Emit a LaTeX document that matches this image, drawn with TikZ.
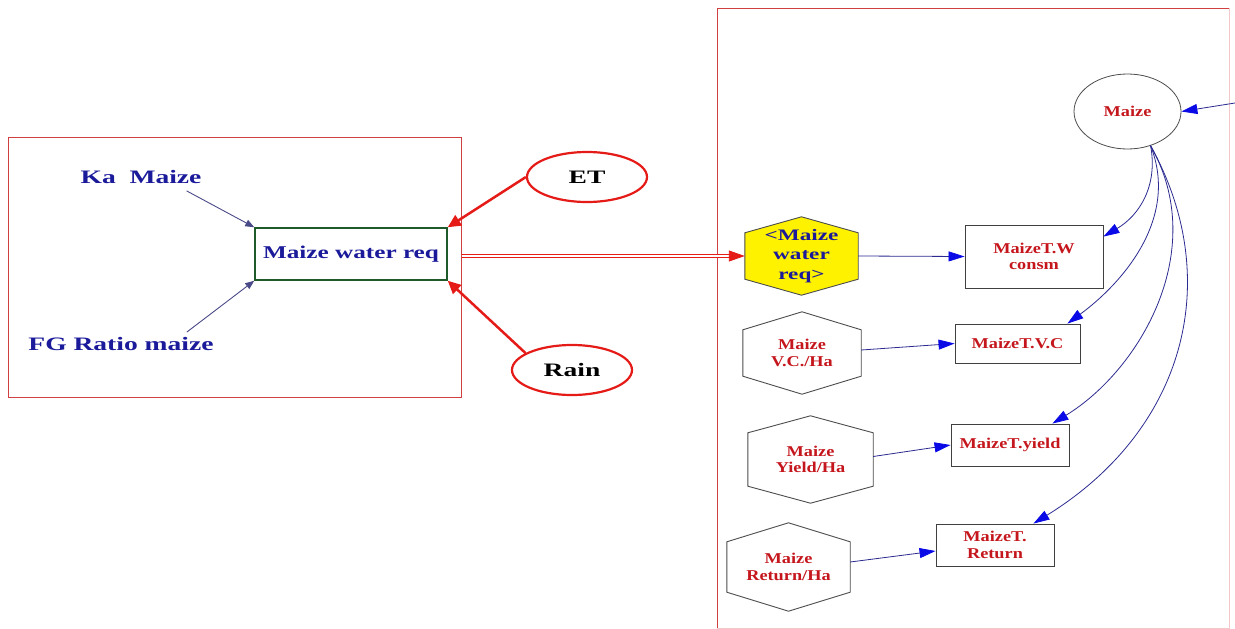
\documentclass[tikz,border=0pt]{standalone}
\usepackage{fontspec}
\setmainfont{Liberation Serif}
\newfontfamily\lfont{Liberation Serif}[FakeStretch=1.45]
\newfontfamily\mfont{Liberation Serif}[FakeStretch=1.4]
\newfontfamily\rfont{Liberation Serif}[FakeStretch=1.22]
\usetikzlibrary{arrows.meta,shapes.geometric,calc,backgrounds}
\definecolor{navy}{HTML}{1A1A9A}
\definecolor{frameRed}{HTML}{D04040}
\definecolor{faintRed}{HTML}{F2C8C8}
\definecolor{arrRed}{HTML}{E41B17}
\definecolor{txtRed}{HTML}{C4161C}
\definecolor{boxGreen}{HTML}{1F5A2A}
\definecolor{slate}{HTML}{4A4A88}
\definecolor{lineBlue}{HTML}{2A2A90}
\definecolor{tipBlue}{HTML}{0A0AE6}
\definecolor{hexYellow}{HTML}{FFF200}
\tikzset{
  frame/.style={draw=frameRed, line width=1pt},
  faint/.style={draw=faintRed, line width=1pt},
  lefttext/.style={font=\lfont\bfseries\fontsize{19}{22}\selectfont, text=navy, inner sep=0pt},
  mwrbox/.style={draw=boxGreen, line width=1.5pt, minimum width=192pt, minimum height=52pt,
    font=\mfont\bfseries\fontsize{18}{21}\selectfont, text=navy, inner sep=0pt},
  oval/.style={ellipse, draw=arrRed, line width=2.2pt, minimum width=120pt, minimum height=50pt,
    font=\lfont\bfseries\fontsize{19}{22}\selectfont, text=black, inner sep=0pt},
  redarrow/.style={draw=arrRed, line width=2.5pt, -{Triangle[length=13pt,width=12pt]}},
  smallarrow/.style={draw=slate, line width=0.9pt, -{Triangle[length=9pt,width=7pt]}},
  dblline/.style={draw=arrRed, double=white, double distance=2.2pt, line width=0.9pt},
  redtip/.style={draw=arrRed, line width=0.9pt, -{Triangle[length=16pt,width=11pt]}},
  bluearrow/.style={draw=lineBlue, line width=0.8pt, -{Triangle[length=16pt,width=10pt,color=tipBlue]}},
  rbox/.style={draw=black!75, line width=0.9pt, font=\rfont\bfseries\fontsize{15}{16.5}\selectfont,
    text=txtRed, align=center, inner sep=0pt},
  hexnode/.style={draw=none, font=\rfont\bfseries\fontsize{15}{16.5}\selectfont,
    text=txtRed, align=center, inner sep=0pt},
  hexline/.style={draw=black!70, line width=0.9pt},
}
\newcommand{\hexpath}[3]{% name, inset, options
  \draw[hexline,#3] (#1.north) -- ([yshift=-#2pt]#1.north east) -- ([yshift=#2pt]#1.south east)
    -- (#1.south) -- ([yshift=#2pt]#1.south west) -- ([yshift=-#2pt]#1.north west) -- cycle;}
\begin{document}
\begin{tikzpicture}[x=1pt,y=-1pt]
\useasboundingbox (0,0) rectangle (1235,629);
% frames
\node[frame, minimum width=453pt, minimum height=260pt, inner sep=0pt] (lframe) at (234.5,267) {};
\coordinate (rfnw) at (717,8);
\coordinate (rfse) at (1229,628);
\draw[faint] (rfnw -| rfse) -- (rfse) -- (rfse -| rfnw);
\draw[frame] (rfse -| rfnw) -- (rfnw) -- (rfnw -| rfse);
% left part
\node[lefttext] (ka) at (141,177) {Ka~~Maize};
\node[lefttext] (fg) at (121,344) {FG Ratio maize};
\node[mwrbox] (mwr) at (351,254) {Maize water req};
\node[oval] (et) at (587,177) {ET};
\node[oval] (rain) at (572,370) {Rain};
\draw[smallarrow] ($(ka.south east)+(-15,7)$) -- (mwr.north west);
\draw[smallarrow] ($(fg.north east)+(-27,-5)$) -- (mwr.south west);
\draw[redarrow] (et.west) -- (mwr.north east);
\draw[redarrow] (rain.160) -- (mwr.south east);
% right part
\node[ellipse, draw=black!70, line width=0.8pt, minimum width=107pt, minimum height=75pt,
  font=\rfont\bfseries\fontsize{15}{16.5}\selectfont, text=txtRed, inner sep=0pt] (maize) at (1127.5,111.5) {Maize};
\coordinate (offr) at (1235,103);
\draw[bluearrow] (offr) -- (maize.east);

\node[hexnode, minimum width=113pt, minimum height=78pt, text=navy,
  font=\lfont\bfseries\fontsize{16}{19.5}\selectfont] (yhex) at (801.5,256) {<Maize\\water\\req>};
\node[hexnode, minimum width=118pt, minimum height=82pt] (vchex) at (802,353) {Maize\\V.C./Ha};
\node[hexnode, minimum width=125pt, minimum height=87pt] (ylhex) at (810.5,459.5) {Maize\\Yield/Ha};
\node[hexnode, minimum width=123pt, minimum height=88pt] (rthex) at (788.5,567) {Maize\\Return/Ha};
\begin{scope}[on background layer]
  \hexpath{yhex}{16}{fill=hexYellow}
  \hexpath{vchex}{18}{}
  \hexpath{ylhex}{17}{}
  \hexpath{rthex}{19}{}
\end{scope}

\node[rbox, minimum width=138pt, minimum height=63pt] (wbox) at (1034,256.5) {MaizeT.W\\consm};
\node[rbox, minimum width=125pt, minimum height=39pt] (vcbox) at (1017.5,343.5) {MaizeT.V.C};
\node[rbox, minimum width=118pt, minimum height=42pt] (ylbox) at (1010,445) {MaizeT.yield};
\node[rbox, minimum width=118pt, minimum height=42pt] (rtbox) at (995,545) {MaizeT.\\Return};

\draw[dblline] (yhex.west -| lframe.east) -- ([xshift=-15pt]yhex.west);
\draw[redtip] ([xshift=-16pt]yhex.west) -- (yhex.west);
\draw[bluearrow] (yhex.east) -- (wbox.west);
\draw[bluearrow] ([yshift=3pt]vchex.east) -- (vcbox.west);
\draw[bluearrow] ([yshift=3pt]ylhex.east) -- (ylbox.west);
\draw[bluearrow] ([yshift=5pt]rthex.east) -- ([yshift=-6pt]rtbox.west);

\draw[bluearrow] (maize.-56) .. controls (1158,185) and (1140,215) .. ([yshift=-12pt]wbox.north east);
\draw[bluearrow] (maize.-56) .. controls (1180,220) and (1120,285) .. ([xshift=-13pt]vcbox.north east);
\draw[bluearrow] (maize.-56) .. controls (1210,250) and (1140,370) .. ([xshift=-17pt]ylbox.north east);
\draw[bluearrow] (maize.-56) .. controls (1225,280) and (1185,430) .. ([xshift=-21pt]rtbox.north east);
\end{tikzpicture}
\end{document}
